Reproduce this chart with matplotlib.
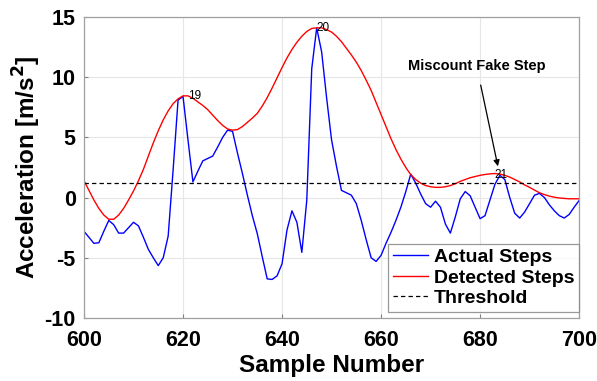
import matplotlib.pyplot as plt
import numpy as np

plt.rcParams['font.family'] = ['Liberation Sans', 'DejaVu Sans']
plt.rcParams['axes.unicode_minus'] = False

samples = np.arange(600, 701)

# raw acceleration (blue)
actual = [-2.8, -3.3, -3.8, -3.75, -2.8, -1.9, -2.25, -2.95, -2.95, -2.5,
          -2.05, -2.35, -3.3, -4.3, -5.0, -5.65, -5.0, -3.2, 2.3, 8.1,
          8.4, 4.8, 1.3, 2.2, 3.05, 3.25, 3.45, 4.2, 5.0, 5.6,
          5.5, 3.7, 2.0, 0.2, -1.5, -3.0, -4.9, -6.75, -6.8, -6.5,
          -5.5, -2.7, -1.1, -2.05, -4.55, -0.2, 10.7, 14.1, 12.1, 8.3,
          4.8, 2.6, 0.6, 0.4, 0.2, -0.5, -1.9, -3.5, -5.0, -5.3,
          -4.8, -3.8, -2.9, -1.9, -0.8, 0.5, 1.95, 1.2, 0.3, -0.5,
          -0.8, -0.3, -0.8, -2.2, -2.95, -1.6, -0.1, 0.5, 0.15, -0.8,
          -1.75, -1.5, -0.2, 1.1, 1.85, 1.5, 0.0, -1.3, -1.7, -1.2,
          -0.5, 0.2, 0.35, 0.0, -0.6, -1.1, -1.5, -1.7, -1.4, -0.8,
          -0.25]

# smoothed envelope (red)
detected = [1.4, 0.6, -0.2, -0.9, -1.45, -1.8, -1.8, -1.45, -0.9, -0.2,
            0.55, 1.4, 2.35, 3.45, 4.55, 5.55, 6.45, 7.2, 7.8, 8.2,
            8.45, 8.45, 8.25, 7.95, 7.65, 7.3, 6.85, 6.4, 6.0, 5.7,
            5.6, 5.65, 5.9, 6.25, 6.6, 7.0, 7.6, 8.3, 9.1, 9.95,
            10.8, 11.6, 12.3, 12.9, 13.4, 13.8, 14.05, 14.1, 14.1, 13.95,
            13.75, 13.4, 12.95, 12.4, 11.85, 11.25, 10.55, 9.75, 8.9, 7.9,
            6.9, 5.9, 4.9, 4.0, 3.2, 2.5, 1.9, 1.5, 1.2, 1.0,
            0.9, 0.85, 0.85, 0.9, 1.0, 1.15, 1.35, 1.5, 1.65, 1.75,
            1.85, 1.92, 1.97, 2.0, 1.95, 1.85, 1.7, 1.5, 1.3, 1.05,
            0.85, 0.62, 0.4, 0.25, 0.12, 0.03, -0.03, -0.07, -0.1, -0.1,
            -0.1]

threshold = 1.2

step_x = [621, 647, 683]
step_y = [8.4, 14.1, 1.9]
step_labels = ['19', '20', '21']

fig = plt.figure(figsize=(5.97, 3.81), dpi=100)
ax = fig.add_axes([0.1407, 0.1654, 0.8293, 0.79])

ax.plot(samples, actual, color='#0000ff', lw=1.0, label='Actual Steps')
ax.plot(samples, detected, color='#ff0000', lw=1.0, label='Detected Steps')
ax.axhline(threshold, color='black', ls='--', lw=0.9, dashes=(3.5, 2.5), label='Threshold')

for sx, sy, s in zip(step_x, step_y, step_labels):
    ax.text(sx, sy, s, fontsize=8.5, ha='left', va='center')

ax.annotate('Miscount Fake Step', xy=(683.6, 2.6), xytext=(679.3, 10.95),
            fontsize=10.5, fontweight='bold', ha='center', va='center',
            arrowprops=dict(arrowstyle='-|>', color='black', lw=0.9,
                            mutation_scale=9, shrinkA=7, shrinkB=0))

ax.set_xlim(600, 700)
ax.set_ylim(-10, 15)
ax.set_xticks(range(600, 701, 20))
ax.set_yticks(range(-10, 16, 5))
ax.grid(True, color='#e6e6e6', lw=0.8)
ax.set_axisbelow(True)
for sp in ax.spines.values():
    sp.set_color('#a0a0a0')
    sp.set_linewidth(0.9)
ax.tick_params(direction='in', length=3, color='#808080', labelsize=15.5)
ax.tick_params(axis='x', pad=9)
ax.tick_params(axis='y', pad=6)
for lab in ax.get_xticklabels() + ax.get_yticklabels():
    lab.set_fontweight('bold')

ax.set_xlabel('Sample Number', fontsize=17.5, fontweight='bold', labelpad=2)
ax.set_ylabel('Acceleration [m/s$^\\mathbf{2}$]', fontsize=17.5, fontweight='bold', labelpad=1)

leg = ax.legend(loc='lower right', bbox_to_anchor=(1.0, 0.02),
                prop={'weight': 'bold', 'size': 14}, frameon=True, fancybox=False,
                handlelength=1.8, handletextpad=0.3, labelspacing=0.15,
                borderpad=0.25, borderaxespad=0.0)
leg.get_frame().set_edgecolor('#808080')
leg.get_frame().set_linewidth(0.9)

plt.savefig('out.png', dpi=100)
